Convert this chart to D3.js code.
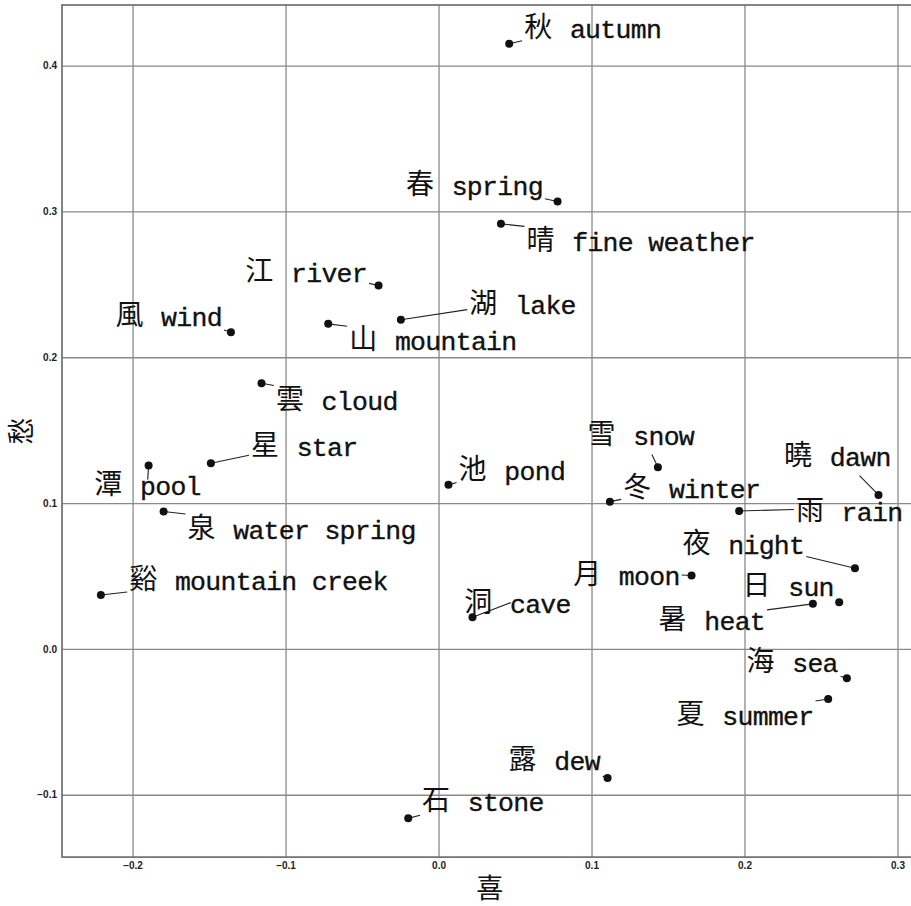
<!DOCTYPE html>
<html><head><meta charset="utf-8">
<script src="https://cdn.jsdelivr.net/npm/d3@7"></script>
<style>body{margin:0;background:#fff}</style>
</head><body><svg id="c" width="911" height="906"></svg>
<script>
// Characters and their English glosses
const words   = ["秋","春","晴","江","湖","風","山","雲","星","潭","泉","谿","池","雪","冬","月","洞","曉","雨","夜","日","暑","海","夏","露","石"];
const glosses = ["autumn","spring","fine weather","river","lake","wind","mountain","cloud","star","pool","water spring","mountain creek","pond","snow","winter","moon","cave","dawn","rain","night","sun","heat","sea","summer","dew","stone"];
// 喜 (x) and 愁 (y) scores
const xi   = [0.0462,0.0778,0.0408,-0.0392,-0.0246,-0.1357,-0.0721,-0.1157,-0.1488,-0.1895,-0.1797,-0.2207,0.0065,0.1434,0.1120,0.1654,0.0222,0.2876,0.1965,0.2722,0.2619,0.2447,0.2669,0.2547,0.1105,-0.0198];
const chou = [0.4150,0.3068,0.2915,0.2492,0.2257,0.2172,0.2229,0.1822,0.1273,0.1257,0.0942,0.0370,0.1125,0.1246,0.1010,0.0503,0.0217,0.1056,0.0946,0.0553,0.0320,0.0309,-0.0202,-0.0343,-0.0885,-0.1162];
// annotation anchors (data units): left edge / vertical middle of each label
const labelXi   = [0.0560,-0.0213,0.0575,-0.1263,0.0201,-0.2112,-0.0584,-0.1063,-0.1226,-0.2250,-0.1641,-0.2022,0.0131,0.0974,0.1207,0.0880,0.0168,0.2259,0.2336,0.1595,0.1987,0.1438,0.2013,0.1556,0.0458,-0.0108];
const labelChou = [0.4261,0.3178,0.2794,0.2588,0.2368,0.2286,0.2121,0.1710,0.1391,0.1127,0.0819,0.0473,0.1230,0.1470,0.1106,0.0510,0.0318,0.1326,0.0949,0.0722,0.0434,0.0201,-0.0087,-0.0450,-0.0765,-0.1046];
const xTicks = [-0.2,-0.1,0.0,0.1,0.2,0.3];
const yTicks = [-0.1,0.0,0.1,0.2,0.3,0.4];
const xLabel = "喜", yLabel = "愁";

const svg = d3.select("#c");
const mLeft = 62, mTop = 5, pw = 855.4, ph = 852.1;
const pad = (e) => { const r = e[1]-e[0]; return [e[0]-0.05*r, e[1]+0.05*r]; };
const x = d3.scaleLinear().domain(pad(d3.extent(xi))).range([mLeft, mLeft+pw]);
const y = d3.scaleLinear().domain(pad(d3.extent(chou))).range([mTop+ph, mTop]);

const fmt = d3.format(".1f");
const gx = svg.append("g").attr("transform", `translate(0,${mTop+ph})`)
  .call(d3.axisBottom(x).tickValues(xTicks).tickFormat(fmt).tickSizeInner(-ph).tickSizeOuter(0).tickPadding(5));
const gy = svg.append("g").attr("transform", `translate(${mLeft},0)`)
  .call(d3.axisLeft(y).tickValues(yTicks).tickFormat(fmt).tickSizeInner(-pw).tickSizeOuter(0).tickPadding(5));
[gx, gy].forEach(g => {
  g.select(".domain").remove();
  g.selectAll(".tick line").attr("stroke", "#8a8a8a").attr("stroke-width", 1.3);
  g.selectAll(".tick text").attr("font-family", "'Liberation Sans', Arial, sans-serif")
    .attr("font-size", 10).attr("fill", "#222").attr("font-weight", "bold");
});
svg.append("rect").attr("x", mLeft).attr("y", mTop).attr("width", pw).attr("height", ph)
  .attr("fill", "none").attr("stroke", "#666").attr("stroke-width", 1.6);

svg.append("text").attr("x", mLeft+pw/2).attr("y", 898).attr("text-anchor", "middle")
  .attr("font-family", "'Noto Sans CJK SC'").attr("font-size", 27).attr("fill", "#111").text(xLabel);
svg.append("text").attr("transform", `translate(31,${mTop+ph/2}) rotate(-90)`).attr("text-anchor", "middle")
  .attr("font-family", "'Noto Sans CJK SC'").attr("font-size", 27).attr("fill", "#111").text(yLabel);

const data = words.map((w, i) => ({w, g: glosses[i], x: xi[i], y: chou[i], lx: labelXi[i], ly: labelChou[i]}));
const lineG = svg.append("g");
const textG = svg.append("g");
const dotG = svg.append("g");

data.forEach(d => {
  const t = textG.append("text").attr("x", x(d.lx)).attr("y", y(d.ly) + 10).attr("fill", "#111");
  t.append("tspan").attr("font-family", "'Noto Sans CJK SC'").attr("font-size", 28).attr("dy", -1).text(d.w);
  t.append("tspan").attr("font-family", "'Liberation Mono', monospace").attr("font-size", 26.5)
    .attr("letter-spacing", -0.7)
    .attr("dx", 2.5).attr("dy", 1).attr("stroke", "#111").attr("stroke-width", 0.35)
    .attr("xml:space", "preserve").text(" " + d.g);
  const b = t.node().getBBox();
  const p = 2;
  const x0 = b.x - p, x1 = b.x + b.width + p, y0 = b.y - p, y1 = b.y + b.height + p;
  const cx = (x0 + x1) / 2, cy = (y0 + y1) / 2;
  const px = x(d.x), py = y(d.y);
  const dx = px - cx, dy = py - cy;
  let tt = Infinity;
  if (dx > 0) tt = Math.min(tt, (x1 - cx) / dx); else if (dx < 0) tt = Math.min(tt, (x0 - cx) / dx);
  if (dy > 0) tt = Math.min(tt, (y1 - cy) / dy); else if (dy < 0) tt = Math.min(tt, (y0 - cy) / dy);
  if (!(tt < 1)) tt = 0.15;
  lineG.append("line").attr("x1", cx + dx*tt).attr("y1", cy + dy*tt).attr("x2", px).attr("y2", py)
    .attr("stroke", "#222").attr("stroke-width", 1.1);
  dotG.append("circle").attr("cx", px).attr("cy", py).attr("r", 4).attr("fill", "#111");
});
</script></body></html>
